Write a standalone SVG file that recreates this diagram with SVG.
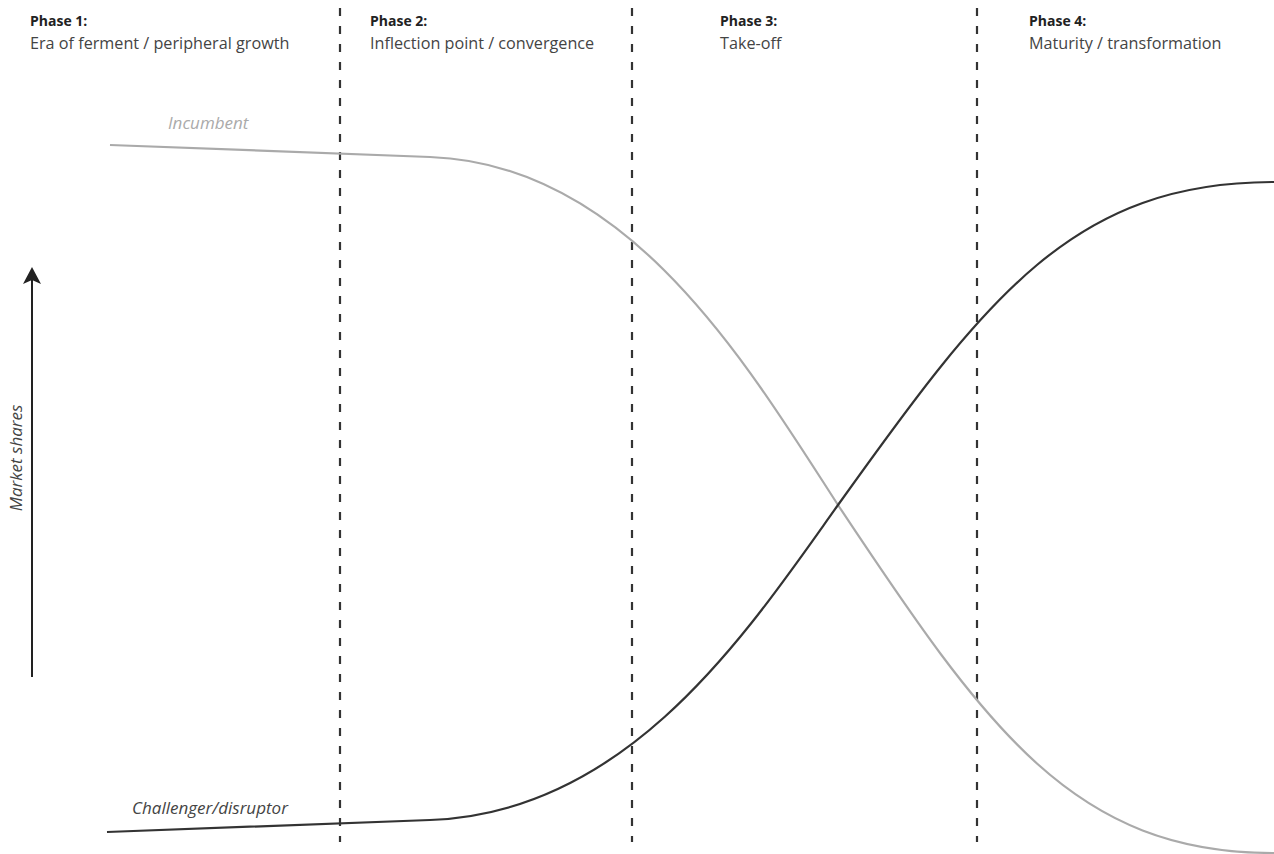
<svg xmlns="http://www.w3.org/2000/svg" width="1274" height="854" viewBox="0 0 1274 854">
<style>
.title{font-family:"Open Sans","Liberation Sans",sans-serif;font-size:14px;font-weight:bold;fill:#222}
.sub{font-family:"Open Sans","Liberation Sans",sans-serif;font-size:16.2px;fill:#444}
.lbl{font-family:"Open Sans","Liberation Sans",sans-serif;font-size:17px;font-style:italic}
.div{stroke:#333;stroke-width:2.2;stroke-dasharray:8 10;fill:none}
</style>
<defs>
<marker id="ah" markerWidth="17" markerHeight="18" refX="15" refY="9" orient="auto" markerUnits="userSpaceOnUse" viewBox="0 0 17 18">
<path d="M0,0 L17,9 L0,18 L4,9 Z" fill="#222"/>
</marker>
</defs>
<rect width="1274" height="854" fill="#fff"/>
<g id="phase1"><text class="title" x="30" y="26">Phase 1:</text><text class="sub" x="30" y="49">Era of ferment / peripheral growth</text></g>
<g id="phase2"><text class="title" x="370" y="26">Phase 2:</text><text class="sub" x="370" y="49">Inflection point / convergence</text></g>
<g id="phase3"><text class="title" x="720" y="26">Phase 3:</text><text class="sub" x="720" y="49">Take-off</text></g>
<g id="phase4"><text class="title" x="1029" y="26">Phase 4:</text><text class="sub" x="1029" y="49">Maturity / transformation</text></g>
<g id="dividers">
<line class="div" x1="340" y1="8" x2="340" y2="842"/>
<line class="div" x1="632" y1="8" x2="632" y2="842"/>
<line class="div" x1="977" y1="8" x2="977" y2="842"/>
</g>
<g id="axis">
<line x1="32" y1="677" x2="32" y2="269" stroke="#222" stroke-width="2" marker-end="url(#ah)"/>
<text class="lbl" fill="#444" transform="translate(22,458) rotate(-90)" text-anchor="middle">Market shares</text>
</g>
<g id="connectors">
<path id="incumbent" d="M110,145 L430,157 C630,164 748,366 838,505 C988,731 1074,853 1274,853" fill="none" stroke="#aaa" stroke-width="2.2"/>
<path id="challenger" d="M107,832 L430,820 C630,813 748,631 838,505 C988,295 1074,182 1274,182" fill="none" stroke="#333" stroke-width="2.2"/>
</g>
<g id="labels">
<text class="lbl" fill="#aaa" x="168" y="129">Incumbent</text>
<text class="lbl" fill="#444" x="132" y="814">Challenger/disruptor</text>
</g>
</svg>
